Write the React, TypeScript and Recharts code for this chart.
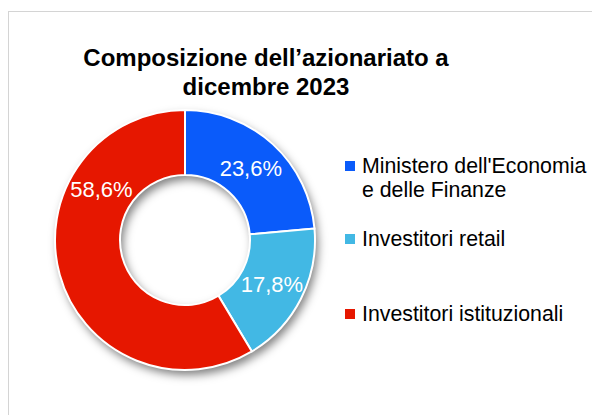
import { PieChart, Pie, Cell, Legend } from 'recharts';

const categories = ["Ministero dell'Economia e delle Finanze", 'Investitori retail', 'Investitori istituzionali'];
const shares = [23.6, 17.8, 58.6];
const colors = ['#0A5BFA', '#42B8E4', '#E61700'];

const data = categories.map((name, i) => ({ name, value: shares[i] }));

const CX = 176;
const CY = 228;
const INNER = 65;
const OUTER = 130;
const SHADOW = '#000000';
const RAD = Math.PI / 180;

// Excel nudges the big slice label up the ring
const labelAngleOverride: Record<number, number> = { 2: 149 };
const legendTops = [142, 215, 290];

function renderLabel(props: any) {
  const { cx, cy, midAngle, innerRadius, outerRadius, value, index } = props;
  const angle = labelAngleOverride[index] ?? midAngle;
  const r = (innerRadius + outerRadius) / 2;
  const x = cx + r * Math.cos(-angle * RAD);
  const y = cy + r * Math.sin(-angle * RAD);
  return (
    <text
      x={x}
      y={y}
      fill="#ffffff"
      fontSize={22}
      fontFamily="'Liberation Sans', Arial, sans-serif"
      textAnchor="middle"
      dominantBaseline="central"
    >
      {`${value.toFixed(1).replace('.', ',')}%`}
    </text>
  );
}

function LegendContent({ payload }: any) {
  const items = (payload || [])
    .filter((p: any) => p.color !== SHADOW && p.type !== 'none')
    .sort((a: any, b: any) => categories.indexOf(a.value) - categories.indexOf(b.value));
  return (
    <div style={{ position: 'relative', width: 250, height: 300 }}>
      {items.map((p: any, i: number) => (
        <div
          key={p.value}
          style={{
            position: 'absolute',
            top: legendTops[i] - 142,
            left: 0,
            display: 'flex',
            alignItems: 'flex-start',
          }}
        >
          <span
            style={{
              display: 'inline-block',
              width: 10,
              height: 10,
              background: p.color,
              marginTop: 7,
              marginRight: 7,
              flex: 'none',
            }}
          />
          <span style={{ width: 236, fontSize: 21.3, lineHeight: '24px', color: '#000' }}>{p.value}</span>
        </div>
      ))}
    </div>
  );
}

export default function App() {
  return (
    <div
      style={{
        position: 'relative',
        width: 592,
        height: 404,
        marginTop: 3,
        borderTop: '1px solid #d4d4d4',
        borderLeft: '1px solid #d4d4d4',
        fontFamily: "'Liberation Sans', Arial, sans-serif",
        background: '#fff',
      }}
    >
      <style>{`.donut-shadow { filter: blur(3px); }`}</style>
      <div
        style={{
          position: 'absolute',
          top: 31,
          left: 57,
          width: 400,
          textAlign: 'center',
          fontSize: 24,
          fontWeight: 'bold',
          lineHeight: '29px',
          color: '#000',
        }}
      >
        Composizione dell’azionariato a<br />dicembre 2023
      </div>
      <PieChart width={591} height={403} margin={{ top: 0, right: 0, bottom: 0, left: 0 }}>
        <Pie
          data={data}
          dataKey="value"
          nameKey="name"
          cx={CX + 3}
          cy={CY + 5}
          innerRadius={INNER}
          outerRadius={OUTER}
          startAngle={90}
          endAngle={-270}
          stroke="none"
          fill={SHADOW}
          fillOpacity={0.5}
          className="donut-shadow"
          legendType="none"
          isAnimationActive={false}
        >
          {data.map((d) => (
            <Cell key={d.name} fill={SHADOW} />
          ))}
        </Pie>
        <Pie
          data={data}
          dataKey="value"
          nameKey="name"
          cx={CX}
          cy={CY}
          innerRadius={INNER}
          outerRadius={OUTER}
          startAngle={90}
          endAngle={-270}
          stroke="#ffffff"
          strokeWidth={2}
          label={renderLabel}
          labelLine={false}
          isAnimationActive={false}
        >
          {data.map((d, i) => (
            <Cell key={d.name} fill={colors[i]} />
          ))}
        </Pie>
        <Legend
          layout="vertical"
          content={<LegendContent />}
          wrapperStyle={{ position: 'absolute', left: 336, top: 142, width: 255 }}
        />
      </PieChart>
    </div>
  );
}
